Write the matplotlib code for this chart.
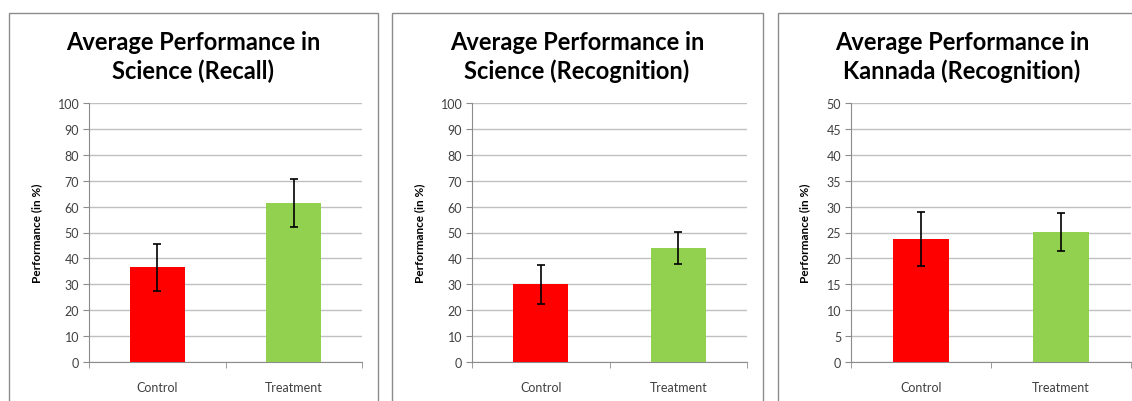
import matplotlib.pyplot as plt
from matplotlib.patches import Rectangle

groups = ['Control', 'Treatment']
titles = ['Average Performance in\nScience (Recall)',
          'Average Performance in\nScience (Recognition)',
          'Average Performance in\nKannada (Recognition)']
recall_mean = [36.5, 61.4]
recall_err = [9.1, 9.1]
recog_mean = [30.0, 44.0]
recog_err = [7.5, 6.2]
kannada_mean = [23.8, 25.1]
kannada_err = [5.2, 3.6]
ymax = [100, 100, 50]
ystep = [10, 10, 5]

plt.rcParams['font.family'] = ['Lato', 'DejaVu Sans']

W, H = 1132, 402
fig = plt.figure(figsize=(W / 100, H / 100), dpi=100)

# panel frames (pixels: left, right)
frames = [(9, 378), (392, 763), (778, 1140)]
for x0, x1 in frames:
    fig.patches.append(Rectangle((x0 / W, -0.1), (x1 - x0) / W, 1.1 - 14 / H,
                                 transform=fig.transFigure, fill=False,
                                 edgecolor='#8c8c8c', linewidth=1.0))

# axes (pixels: left, right)
axes_px = [(89, 362), (472, 747), (851, 1131)]
bottom = 1 - 363 / H
height = (363 - 104) / H
ylabel_x = [37, 420, 805]
title_x = [193, 577, 962]

data = [(recall_mean, recall_err), (recog_mean, recog_err), (kannada_mean, kannada_err)]
for i, ((m, e), (l, r)) in enumerate(zip(data, axes_px)):
    ax = fig.add_axes([l / W, bottom, (r - l) / W, height])
    ax.bar([0, 1], m, width=0.4, color=['#ff0000', '#92d050'], zorder=3)
    ax.errorbar([0, 1], m, yerr=e, fmt='none', ecolor='black',
                elinewidth=1.2, capsize=3, capthick=1.2, zorder=4)
    ax.set_xlim(-0.5, 1.5)
    ax.set_ylim(0, ymax[i])
    ax.set_yticks(range(0, ymax[i] + 1, ystep[i]))
    ax.set_xticks([0, 1])
    ax.set_xticklabels(groups, fontsize=9, color='#404040')
    ax.tick_params(axis='x', length=0, pad=14)
    ax.set_xticks([-0.5, 0.5, 1.5], minor=True)
    ax.tick_params(axis='x', which='minor', length=4, color='#8c8c8c')
    ax.tick_params(axis='y', length=4, color='#8c8c8c', labelsize=9,
                   labelcolor='#404040', pad=3)
    ax.grid(axis='y', color='#c0c0c0', linewidth=1, zorder=0)
    for s in ['top', 'right']:
        ax.spines[s].set_visible(False)
    for s in ['left', 'bottom']:
        ax.spines[s].set_color('#8c8c8c')
    fig.text(ylabel_x[i] / W, bottom + height / 2, 'Performance (in %)',
             rotation=90, ha='center', va='center', fontsize=8.5,
             fontweight='bold')
    fig.text(title_x[i] / W, 1 - 57 / H, titles[i], ha='center',
             va='center', fontsize=17, fontweight='bold', linespacing=1.3)

fig.savefig('out.png', dpi=100)
